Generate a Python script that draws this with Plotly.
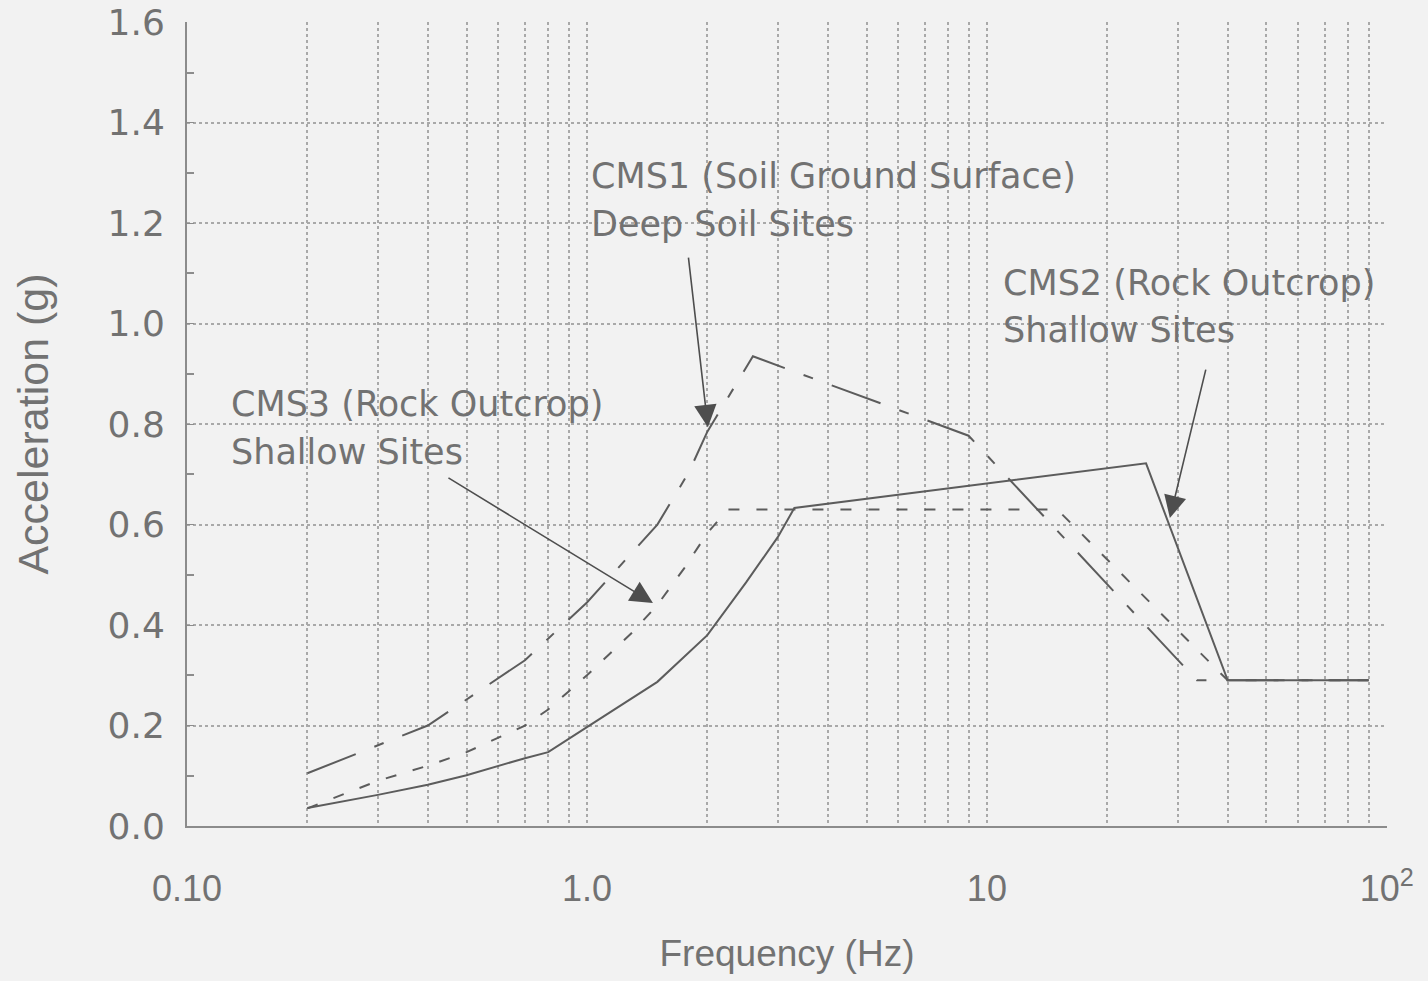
import plotly.graph_objects as go

# ---- data ----
cms1_freq = [0.2, 0.4, 0.7, 1.0, 1.5, 1.8, 2.0, 2.6, 9.0, 33.5, 90]
cms1_acc = [0.105, 0.20, 0.33, 0.445, 0.60, 0.705, 0.785, 0.935, 0.777, 0.29, 0.29]

cms2_freq = [0.2, 0.3, 0.4, 0.5, 0.7, 0.8, 1.0, 1.5, 2.0, 2.5, 3.0, 3.3, 25, 40, 90]
cms2_acc = [0.036, 0.062, 0.082, 0.101, 0.135, 0.147, 0.197, 0.287, 0.38, 0.485, 0.575, 0.633, 0.722, 0.29, 0.29]

cms3_freq = [0.2, 0.3, 0.4, 0.5, 0.7, 0.8, 0.9, 1.0, 1.3, 1.5, 1.75, 2.0, 2.25, 15, 40, 90]
cms3_acc = [0.035, 0.09, 0.12, 0.147, 0.2, 0.232, 0.268, 0.30, 0.386, 0.44, 0.513, 0.583, 0.63, 0.63, 0.29, 0.29]

x_tickvals = [0.1, 1, 10, 100]
x_ticktext = ["0.10", "1.0", "10", "10<sup>2</sup>"]
x_minor = [m * d for d in (0.1, 1, 10) for m in range(2, 10)]

LINE = "#5c5c5c"
TXT = "#727272"
GRID = "#a9a9a9"
BG = "#f2f2f2"

fig = go.Figure()
fig.add_trace(go.Scatter(x=cms1_freq, y=cms1_acc, mode="lines", name="CMS1",
                         line=dict(color=LINE, width=2, dash="52px,20px,10px,20px"),
                         showlegend=False))
fig.add_trace(go.Scatter(x=cms3_freq, y=cms3_acc, mode="lines", name="CMS3",
                         line=dict(color=LINE, width=2, dash="11px,17px"),
                         showlegend=False))
fig.add_trace(go.Scatter(x=cms2_freq, y=cms2_acc, mode="lines", name="CMS2",
                         line=dict(color=LINE, width=2),
                         showlegend=False))

L, R, T, B = 187, 1387, 22, 826
W, H = 1428, 981


def P(xp, yp):
    return (xp - L) / (R - L), (B - yp) / (B - T)


annots = []
text_font = dict(family="DejaVu Sans", size=35, color=TXT)
for txt, xp, yp in [
    ("CMS1 (Soil Ground Surface)", 589, 176),
    ("Deep Soil Sites", 589, 224),
    ("CMS2 (Rock Outcrop)", 1001, 283),
    ("Shallow Sites", 1001, 330),
    ("CMS3 (Rock Outcrop)", 229, 404),
    ("Shallow Sites", 229, 452),
]:
    px_, py_ = P(xp, yp)
    annots.append(dict(text=txt, x=px_, y=py_, xref="paper", yref="paper",
                       xanchor="left", yanchor="middle", showarrow=False,
                       font=text_font))

# arrows (head in data coords: log10 freq, acc ; tail as pixel offset)
for hx, hy, ax, ay in [
    (0.3025, 0.794, -20, -174),
    (1.4575, 0.613, 37, -153),
    (0.165, 0.444, -206, -126),
]:
    annots.append(dict(text="&nbsp;", x=hx, y=hy, xref="x", yref="y", ax=ax, ay=ay,
                       showarrow=True, arrowhead=2, arrowsize=2.8, arrowwidth=1.6,
                       arrowcolor="#4e4e4e", standoff=0, borderpad=0,
                       font=dict(size=6, color=BG)))

fig.update_layout(
    width=W, height=H,
    margin=dict(l=L, r=W - R, t=T, b=H - B, autoexpand=False),
    paper_bgcolor=BG, plot_bgcolor=BG,
    annotations=annots,
    xaxis=dict(
        type="log", range=[-1, 2.0004],
        tickmode="array", tickvals=x_tickvals, ticktext=x_ticktext,
        showgrid=True, gridcolor=GRID, gridwidth=1.5, griddash="dot",
        minor=dict(tickmode="array", tickvals=x_minor, showgrid=True,
                   gridcolor=GRID, gridwidth=1.5, griddash="dot", ticks=""),
        showline=True, linecolor="#8c8c8c", linewidth=2,
        ticks="", zeroline=False,
        tickfont=dict(family="Liberation Sans", size=36, color=TXT),
        ticklabelstandoff=30,
        title=dict(text="Frequency (Hz)", standoff=32,
                   font=dict(family="Liberation Sans", size=37, color=TXT)),
    ),
    yaxis=dict(
        range=[0, 1.6006], tickmode="linear", tick0=0, dtick=0.2, tickformat=".1f",
        showgrid=True, gridcolor=GRID, gridwidth=1.5, griddash="dot",
        minor=dict(dtick=0.1, ticks="inside", ticklen=7, tickcolor="#8c8c8c",
                   tickwidth=1.5, showgrid=False),
        showline=True, linecolor="#8c8c8c", linewidth=2,
        ticks="inside", ticklen=7, tickcolor="#8c8c8c", zeroline=False,
        tickfont=dict(family="DejaVu Sans", size=36, color=TXT),
        ticklabelstandoff=13,
        title=dict(text="Acceleration (g)", standoff=45,
                   font=dict(family="Liberation Sans", size=43, color=TXT)),
    ),
)

fig.write_html("out.html")
